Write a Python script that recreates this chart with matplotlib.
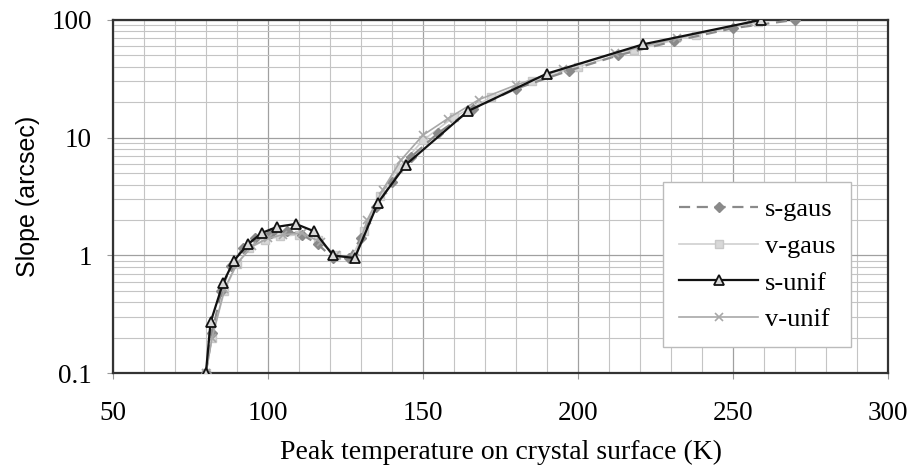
import matplotlib
matplotlib.use("Agg")
import matplotlib.pyplot as plt
from matplotlib.ticker import FixedLocator, FixedFormatter, MultipleLocator, LogLocator, NullFormatter

# Data
s_gaus_T = [80, 82, 85, 88, 92, 96, 101, 106, 111, 116, 121, 126, 130, 135, 140, 146, 155, 166, 180, 197, 213, 231, 250, 270]
s_gaus_v = [0.1, 0.22, 0.5, 0.82, 1.15, 1.4, 1.55, 1.6, 1.5, 1.25, 0.95, 0.95, 1.4, 2.6, 4.2, 6.8, 11, 17.5, 26, 37, 50, 66, 85, 100]

v_gaus_T = [80, 82, 86, 90, 94, 99, 104, 110, 116, 122, 127, 131, 136, 142, 150, 160, 172, 185, 200, 218, 238, 258]
v_gaus_v = [0.1, 0.2, 0.5, 0.85, 1.15, 1.35, 1.45, 1.5, 1.35, 1.0, 0.95, 1.6, 3.2, 5.5, 9.5, 15, 22, 30, 40, 55, 75, 95]

s_unif_T = [80, 81.5, 85.5, 89, 93.5, 98, 103, 109, 115, 121, 128, 135.5, 144.5, 164.5, 190, 221, 259]
s_unif_v = [0.1, 0.27, 0.58, 0.9, 1.24, 1.55, 1.75, 1.85, 1.6, 1.0, 0.95, 2.8, 5.9, 16.8, 35, 62, 100]

v_unif_T = [80, 82, 86, 90, 95, 100, 105, 111, 117, 122, 128, 132, 137, 143, 150, 158, 168, 180, 195, 212, 232, 255]
v_unif_v = [0.1, 0.2, 0.52, 0.85, 1.2, 1.4, 1.5, 1.55, 1.3, 1.0, 0.95, 2.0, 3.6, 6.5, 10.5, 14.5, 21, 28, 38, 52, 70, 95]

x_ticks = [50, 100, 150, 200, 250, 300]
y_ticks = [0.1, 1, 10, 100]
y_tick_labels = ["0.1", "1", "10", "100"]

serif = ["Liberation Serif", "DejaVu Serif"]
sans = ["Liberation Sans", "DejaVu Sans"]

fig = plt.figure(figsize=(9.1, 4.73), dpi=100)
ax = fig.add_axes([0.124, 0.211, 0.852, 0.747])

ax.plot(s_gaus_T, s_gaus_v, color="#8a8a8a", lw=1.6, ls=(0, (5, 3)), marker="D", ms=5,
        mfc="#8a8a8a", mec="#8a8a8a", label="s-gaus", zorder=3)
ax.plot(v_gaus_T, v_gaus_v, color="#cfcfcf", lw=1.2, marker="s", ms=6,
        mfc="#d8d8d8", mec="#c8c8c8", label="v-gaus", zorder=2)
ax.plot(s_unif_T, s_unif_v, color="#111111", lw=1.6, marker="^", ms=7,
        mfc="#d8d8d8", mec="#111111", mew=1.3, label="s-unif", zorder=5)
ax.plot(v_unif_T, v_unif_v, color="#a8a8a8", lw=1.2, marker="x", ms=6,
        mec="#a8a8a8", mew=1.2, label="v-unif", zorder=4)

ax.set_yscale("log")
ax.set_xlim(50, 300)
ax.set_ylim(0.1, 100)

ax.xaxis.set_major_locator(FixedLocator(x_ticks))
ax.xaxis.set_minor_locator(MultipleLocator(10))
ax.yaxis.set_major_locator(FixedLocator(y_ticks))
ax.yaxis.set_major_formatter(FixedFormatter(y_tick_labels))
ax.yaxis.set_minor_locator(LogLocator(base=10, subs=range(2, 10)))
ax.yaxis.set_minor_formatter(NullFormatter())

ax.grid(True, which="major", color="#a0a0a0", lw=0.9)
ax.grid(True, which="minor", color="#c4c4c4", lw=0.8)
ax.set_axisbelow(True)

ax.tick_params(axis="both", which="minor", length=0)
ax.tick_params(axis="both", which="major", length=4, width=0.8, color="#999999",
               labelsize=19.5)
ax.tick_params(axis="x", which="major", pad=16)
ax.tick_params(axis="y", which="major", pad=11)
for lab in ax.get_xticklabels() + ax.get_yticklabels():
    lab.set_fontfamily(serif)

for sp in ax.spines.values():
    sp.set_color("#333333")
    sp.set_linewidth(1.6)

ax.set_xlabel("Peak temperature on crystal surface (K)", fontsize=20, family=serif, labelpad=10)
ax.set_ylabel("Slope (arcsec)", fontsize=18, family=sans, labelpad=8)

leg = ax.legend(loc="upper left", bbox_to_anchor=(0.71, 0.541),
                prop={"family": serif, "size": 19}, handlelength=3.0, frameon=True,
                fancybox=False, edgecolor="#bbbbbb", framealpha=1, borderaxespad=0,
                labelspacing=0.5, handletextpad=0.25, borderpad=0.6)
leg.get_frame().set_linewidth(1.0)

fig.savefig("out.png", dpi=100)
